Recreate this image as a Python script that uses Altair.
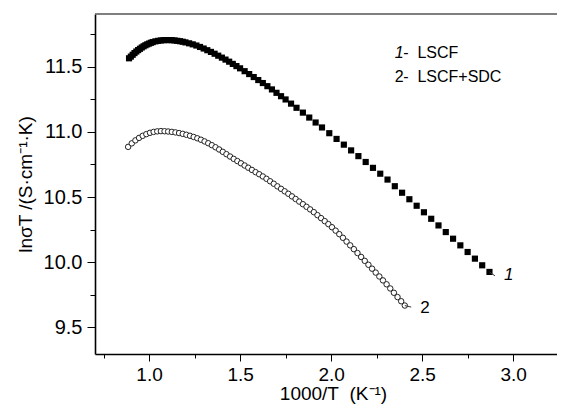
import altair as alt
import pandas as pd

# ---- data ----
x1 = [0.89, 0.90, 0.91, 0.92, 0.93, 0.94, 0.95, 0.96, 0.97, 0.98, 0.99, 1.00, 1.01, 1.02,
      1.035, 1.05, 1.065, 1.08, 1.095, 1.11, 1.125, 1.14, 1.155, 1.17, 1.185, 1.20, 1.22,
      1.24, 1.26, 1.28, 1.30, 1.32, 1.34, 1.36, 1.38, 1.40, 1.42, 1.44, 1.46, 1.48, 1.50,
      1.525, 1.55, 1.575, 1.60, 1.625, 1.65, 1.675, 1.70, 1.725, 1.75, 1.78, 1.81, 1.845,
      1.88, 1.915, 1.95, 1.99, 2.03, 2.07, 2.11, 2.15, 2.19, 2.23, 2.27, 2.31, 2.35, 2.39,
      2.43, 2.47, 2.51, 2.55, 2.59, 2.63, 2.67, 2.71, 2.75, 2.79, 2.83, 2.87]
y1 = [11.565, 11.578, 11.592, 11.605, 11.617, 11.628, 11.638, 11.648, 11.657, 11.665,
      11.672, 11.678, 11.684, 11.689, 11.695, 11.699, 11.702, 11.704, 11.705, 11.705,
      11.704, 11.702, 11.699, 11.696, 11.692, 11.687, 11.680, 11.672, 11.663, 11.652,
      11.640, 11.627, 11.614, 11.600, 11.585, 11.570, 11.555, 11.539, 11.522, 11.505,
      11.488, 11.466, 11.444, 11.421, 11.398, 11.375, 11.351, 11.326, 11.300, 11.274,
      11.249, 11.217, 11.185, 11.148, 11.110, 11.072, 11.034, 10.990, 10.946, 10.902,
      10.858, 10.814, 10.769, 10.724, 10.679, 10.634, 10.583, 10.533, 10.483, 10.433,
      10.383, 10.333, 10.282, 10.231, 10.180, 10.129, 10.078, 10.027, 9.976, 9.925]

x2 = [0.885, 0.905, 0.925, 0.945, 0.965, 0.985, 1.005, 1.025, 1.045, 1.065, 1.085, 1.105,
      1.125, 1.145, 1.165, 1.185, 1.205, 1.225, 1.245, 1.265, 1.285, 1.305, 1.325, 1.345,
      1.365, 1.385, 1.405, 1.425, 1.445, 1.465, 1.485, 1.505, 1.525, 1.545, 1.565, 1.585,
      1.605, 1.625, 1.645, 1.665, 1.685, 1.705, 1.725, 1.745, 1.765, 1.785, 1.805, 1.825,
      1.845, 1.865, 1.885, 1.905, 1.925, 1.945, 1.965, 1.985, 2.005, 2.025, 2.045, 2.065,
      2.085, 2.105, 2.125, 2.145, 2.165, 2.185, 2.205, 2.225, 2.245, 2.265, 2.285, 2.305,
      2.325, 2.345, 2.365, 2.385, 2.405]
y2 = [10.885, 10.912, 10.935, 10.954, 10.970, 10.983, 10.993, 11.000, 11.004, 11.006,
      11.005, 11.003, 11.000, 10.996, 10.991, 10.985, 10.978, 10.970, 10.961, 10.951,
      10.940, 10.927, 10.913, 10.898, 10.882, 10.865, 10.847, 10.829, 10.811, 10.793,
      10.776, 10.759, 10.742, 10.725, 10.708, 10.691, 10.675, 10.658, 10.640, 10.621,
      10.602, 10.582, 10.563, 10.544, 10.525, 10.505, 10.485, 10.465, 10.445, 10.425,
      10.405, 10.384, 10.361, 10.338, 10.315, 10.292, 10.268, 10.242, 10.215, 10.187,
      10.158, 10.129, 10.100, 10.070, 10.040, 10.010, 9.980, 9.950, 9.920, 9.890,
      9.860, 9.830, 9.798, 9.765, 9.732, 9.700, 9.667]

x_major = [1.0, 1.5, 2.0, 2.5, 3.0]
x_minor = [0.75, 1.25, 1.75, 2.25, 2.75]
y_major = [9.5, 10.0, 10.5, 11.0, 11.5]
y_minor = [9.75, 10.25, 10.75, 11.25, 11.75]

x_domain = [0.703, 3.241]
y_domain = [9.295, 11.905]

# annotation texts
curve_labels = ["1", "2"]
curve_label_x = [2.95, 2.49]
curve_label_y = [9.90, 9.65]
leader_x = [2.87, 2.405]
leader_x2 = [2.90, 2.44]
leader_y = [9.925, 9.667]
leader_y2 = [9.895, 9.655]

legend_num = ["1", "2"]
legend_txt = ["-\u00a0\u00a0LSCF", "-\u00a0\u00a0LSCF+SDC"]
legend_x = [2.35, 2.35]
legend_x_txt = [2.396, 2.396]
legend_y = [11.605, 11.42]

FONT = "Liberation Sans"
W, H = 462, 340

xs = alt.Scale(domain=x_domain, nice=False, zero=False)
ys = alt.Scale(domain=y_domain, nice=False, zero=False)

df1 = pd.DataFrame({"x": x1, "y": y1})
df2 = pd.DataFrame({"x": x2, "y": y2})

ax_x = alt.Axis(orient="bottom", values=x_major, format=".1f", tickSize=7,
                labelPadding=4, labelFontSize=19,
                title="1000/T\u00a0\u00a0(K\u207b\u00b9)", titleFontSize=19,
                titleX=238, titleY=45, titleBaseline="alphabetic",
                domainWidth=1.6)
ax_y = alt.Axis(orient="left", values=y_major, format=".1f", tickSize=8,
                labelPadding=5, labelFontSize=20,
                title="ln\u03c3T /(S\u00b7cm\u207b\u00b9\u00b7K)", titleFontSize=19,
                titlePadding=8, domainWidth=1.6)
ax_xm = alt.Axis(orient="bottom", values=x_minor, tickSize=4, labels=False,
                 title=None, domain=False)
ax_ym = alt.Axis(orient="left", values=y_minor, tickSize=5, labels=False,
                 title=None, domain=False)

s1 = alt.Chart(df1).mark_point(shape="square", filled=True, color="black",
                               size=38, opacity=1).encode(
    x=alt.X("x:Q", scale=xs, axis=ax_x),
    y=alt.Y("y:Q", scale=ys, axis=ax_y),
)
s2 = alt.Chart(df2).mark_point(shape="circle", filled=True, fill="white",
                               stroke="#222222", strokeWidth=1, size=30,
                               opacity=1).encode(
    x=alt.X("x:Q", scale=xs, axis=ax_xm),
    y=alt.Y("y:Q", scale=ys, axis=ax_ym),
)

lead_df = pd.DataFrame({"x": leader_x, "x2": leader_x2, "y": leader_y, "y2": leader_y2})
leads = alt.Chart(lead_df).mark_rule(color="#333333", strokeWidth=1).encode(
    x=alt.X("x:Q", scale=xs, axis=None), x2="x2:Q",
    y=alt.Y("y:Q", scale=ys, axis=None), y2="y2:Q",
)

cl_df = pd.DataFrame({"t": curve_labels, "x": curve_label_x, "y": curve_label_y})
cl1 = alt.Chart(cl_df.iloc[[0]]).mark_text(font=FONT, fontSize=17, fontStyle="italic",
                                           align="left", baseline="middle",
                                           color="black").encode(
    x=alt.X("x:Q", scale=xs, axis=None), y=alt.Y("y:Q", scale=ys, axis=None), text="t:N")
cl2 = alt.Chart(cl_df.iloc[[1]]).mark_text(font=FONT, fontSize=17,
                                           align="left", baseline="middle",
                                           color="black").encode(
    x=alt.X("x:Q", scale=xs, axis=None), y=alt.Y("y:Q", scale=ys, axis=None), text="t:N")

lg_df = pd.DataFrame({"n": legend_num, "t": legend_txt, "x": legend_x,
                      "xt": legend_x_txt, "y": legend_y})
lg_n1 = alt.Chart(lg_df.iloc[[0]]).mark_text(font=FONT, fontSize=16, fontStyle="italic",
                                             align="left", baseline="middle",
                                             color="black").encode(
    x=alt.X("x:Q", scale=xs, axis=None), y=alt.Y("y:Q", scale=ys, axis=None), text="n:N")
lg_n2 = alt.Chart(lg_df.iloc[[1]]).mark_text(font=FONT, fontSize=16,
                                             align="left", baseline="middle",
                                             color="black").encode(
    x=alt.X("x:Q", scale=xs, axis=None), y=alt.Y("y:Q", scale=ys, axis=None), text="n:N")
lg_t = alt.Chart(lg_df).mark_text(font=FONT, fontSize=16, align="left",
                                  baseline="middle", color="black").encode(
    x=alt.X("xt:Q", scale=xs, axis=None), y=alt.Y("y:Q", scale=ys, axis=None), text="t:N")

top = alt.Chart(pd.DataFrame({"a": [0]})).mark_rule(color="#555555", strokeWidth=1.5).encode(
    x=alt.value(0), x2=alt.value(W), y=alt.value(0))

chart = alt.layer(s2, s1, leads, cl1, cl2, lg_n1, lg_n2, lg_t, top).resolve_axis(
    x="independent", y="independent"
).properties(
    width=W, height=H, autosize="none",
    padding={"left": 87, "top": 6, "right": 0, "bottom": 50},
).configure_view(stroke=None).configure_axis(
    grid=False, domainColor="black", tickColor="black", labelColor="black",
    titleColor="black", labelFont=FONT, titleFont=FONT,
    titleFontWeight="normal", tickWidth=1,
)

chart.save("out.html", embed_options={"renderer": "svg", "actions": False})
